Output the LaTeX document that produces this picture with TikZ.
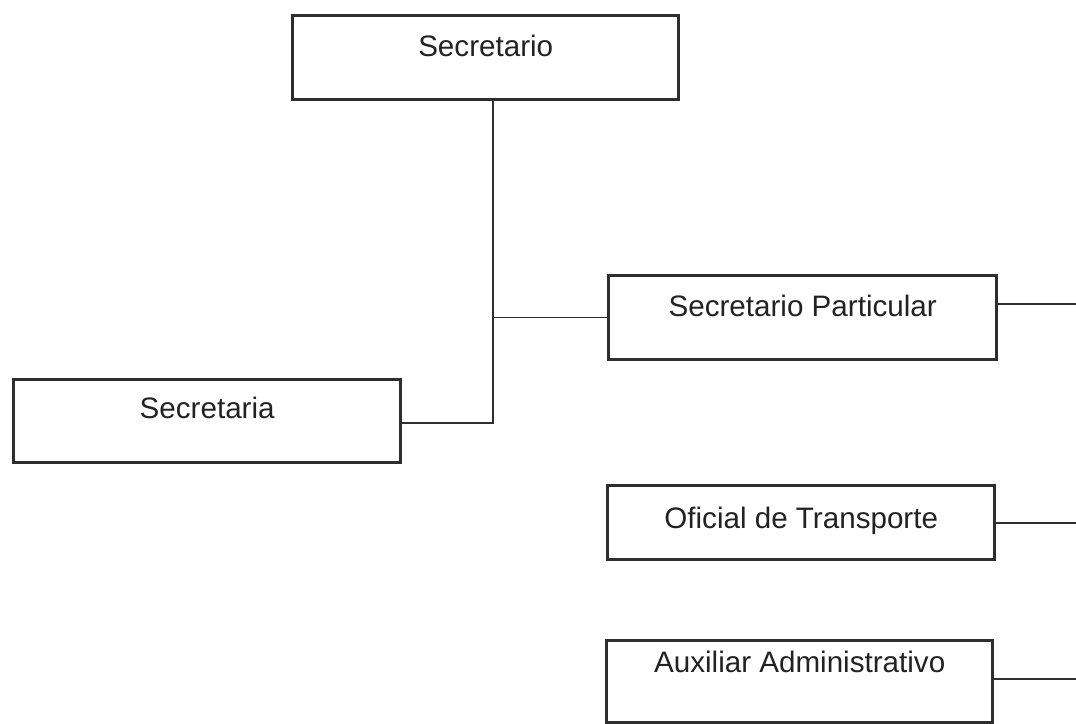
\documentclass[tikz,border=0pt]{standalone}
\usepackage{fontspec}
\setmainfont{Liberation Sans}
\definecolor{ink}{HTML}{2E2E2E}
\definecolor{txt}{HTML}{222222}
\begin{document}
\begin{tikzpicture}[x=0.5pt,y=-0.5pt,
  orgbox/.style={draw=ink, line width=1.7pt, inner sep=0pt, text=txt,
    font=\fontsize{14.8}{17}\selectfont, anchor=north west},
  link/.style={draw=ink, line width=0.75pt}]
\useasboundingbox (0,0) rectangle (1076,723);
\node[orgbox, minimum width=193pt, text height=20.5pt, text depth=21.5pt] (sec) at (291,14) {Secretario};
\node[orgbox, minimum width=194pt, text height=20.5pt, text depth=21.5pt] (sp) at (607,274) {Secretario Particular};
\node[orgbox, minimum width=193.5pt, text height=19.5pt, text depth=22pt] (sa) at (12,378) {Secretaria};
\node[orgbox, minimum width=193.5pt, text height=21.5pt, text depth=15.5pt] (ot) at (606,484) {Oficial de Transporte};
\node[orgbox, minimum width=193pt, text height=16pt, text depth=25pt] (aa) at (605,639) {Auxiliar Administrativo};
\coordinate (spine) at (493,0);
\coordinate (j) at (493,423);
\coordinate (r1) at (1076,304);
\coordinate (r2) at (1076,523);
\coordinate (r3) at (1076,679);
\draw[link] (sec.south -| spine) -- (j) -- (sa.east |- j);
\draw[link] (spine |- sp.west) -- (sp.west);
\draw[link] (sp.east |- r1) -- (r1);
\draw[link] (ot.east |- r2) -- (r2);
\draw[link] (aa.east |- r3) -- (r3);
\end{tikzpicture}
\end{document}
